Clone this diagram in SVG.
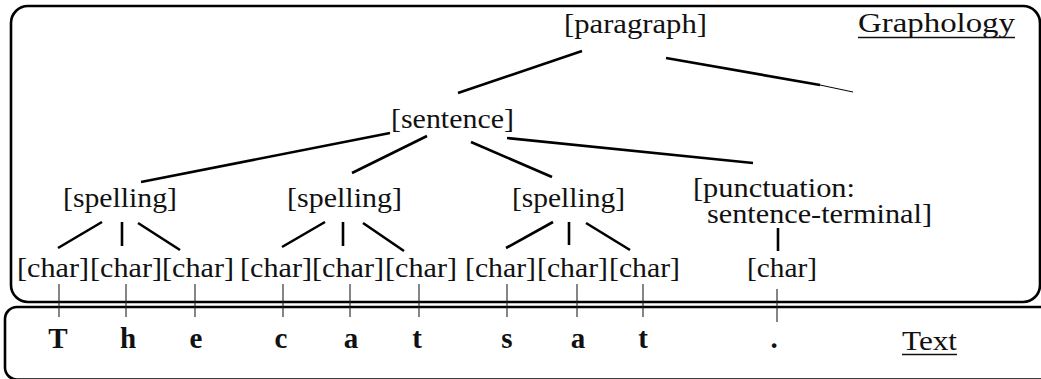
<svg xmlns="http://www.w3.org/2000/svg" width="1041" height="379" viewBox="0 0 1041 379">
  <style>
    .lbl { font-family: "Liberation Serif", "Times New Roman", serif; font-size: 28px; fill: #111; }
    .ltr { font-family: "Liberation Serif", "Times New Roman", serif; font-size: 29px; font-weight: bold; fill: #111; text-anchor: middle; }
    .edge { stroke: #000; stroke-width: 2.6; stroke-linecap: butt; fill: none; }
    .tick { stroke: #222; stroke-width: 1.1; fill: none; }
    .frame { stroke: #000; stroke-width: 2.6; fill: none; }
    .ul { stroke: #111; stroke-width: 1.4; }
  </style>

  <!-- strata frames -->
  <rect class="frame" x="11" y="6" width="1029" height="296" rx="17" ry="17"/>
  <rect class="frame" x="5" y="307" width="1100" height="72.5" rx="12" ry="12"/>

  <!-- strata titles -->
  <g id="title-graphology">
    <text class="lbl" x="858" y="32" textLength="157" lengthAdjust="spacingAndGlyphs">Graphology</text>
    <line class="ul" x1="858" y1="37.5" x2="1015" y2="37.5"/>
  </g>
  <g id="title-text">
    <text class="lbl" x="902" y="350" textLength="55" lengthAdjust="spacingAndGlyphs">Text</text>
    <line class="ul" x1="902" y1="354.5" x2="957" y2="354.5"/>
  </g>

  <!-- connectors -->
  <g id="connectors">
    <line class="edge" x1="582" y1="51" x2="458" y2="93"/>
    <line class="edge" x1="666" y1="58" x2="820" y2="85"/>
    <line stroke="#000" stroke-width="1" x1="820" y1="85" x2="853" y2="92"/>
    <line class="edge" x1="390" y1="133" x2="141" y2="182"/>
    <line class="edge" x1="427" y1="136" x2="352" y2="173"/>
    <line class="edge" x1="471" y1="142" x2="552" y2="177"/>
    <line class="edge" x1="507" y1="138" x2="753" y2="163"/>

    <line class="edge" x1="102" y1="222" x2="58" y2="248"/>
    <line class="edge" x1="122" y1="222" x2="122" y2="246"/>
    <line class="edge" x1="138" y1="223" x2="180" y2="250"/>

    <line class="edge" x1="325" y1="222" x2="282" y2="247"/>
    <line class="edge" x1="343" y1="222" x2="343" y2="246"/>
    <line class="edge" x1="363" y1="223" x2="404" y2="251"/>

    <line class="edge" x1="553" y1="222" x2="506" y2="248"/>
    <line class="edge" x1="569" y1="222" x2="569" y2="245"/>
    <line class="edge" x1="586" y1="223" x2="630" y2="250"/>

    <line class="edge" x1="778" y1="228" x2="778" y2="251"/>

    <!-- realisation ticks into the text stratum -->
    <line class="tick" x1="59" y1="284" x2="59" y2="317"/>
    <line class="tick" x1="126" y1="284" x2="126" y2="317"/>
    <line class="tick" x1="195" y1="284" x2="195" y2="317"/>
    <line class="tick" x1="283" y1="284" x2="283" y2="317"/>
    <line class="tick" x1="350" y1="284" x2="350" y2="317"/>
    <line class="tick" x1="419" y1="284" x2="419" y2="317"/>
    <line class="tick" x1="507" y1="284" x2="507" y2="317"/>
    <line class="tick" x1="577" y1="284" x2="577" y2="317"/>
    <line class="tick" x1="643" y1="284" x2="643" y2="317"/>
    <line class="tick" x1="777" y1="289" x2="777" y2="322"/>
  </g>

  <!-- graphological units -->
  <g id="paragraph"><text class="lbl" x="564" y="33" textLength="143" lengthAdjust="spacingAndGlyphs">[paragraph]</text></g>
  <g id="sentence"><text class="lbl" x="391" y="128" textLength="123" lengthAdjust="spacingAndGlyphs">[sentence]</text></g>
  <g id="spelling-1"><text class="lbl" x="63" y="207" textLength="114" lengthAdjust="spacingAndGlyphs">[spelling]</text></g>
  <g id="spelling-2"><text class="lbl" x="287" y="207" textLength="115" lengthAdjust="spacingAndGlyphs">[spelling]</text></g>
  <g id="spelling-3"><text class="lbl" x="512" y="207" textLength="113" lengthAdjust="spacingAndGlyphs">[spelling]</text></g>
  <g id="punctuation">
    <text class="lbl" x="693" y="197" textLength="162" lengthAdjust="spacingAndGlyphs">[punctuation:</text>
    <text class="lbl" x="707" y="223" textLength="225" lengthAdjust="spacingAndGlyphs">sentence-terminal]</text>
  </g>

  <g id="char-1"><text class="lbl" x="17" y="277" textLength="72" lengthAdjust="spacingAndGlyphs">[char]</text></g>
  <g id="char-2"><text class="lbl" x="90" y="277" textLength="72" lengthAdjust="spacingAndGlyphs">[char]</text></g>
  <g id="char-3"><text class="lbl" x="162" y="277" textLength="72" lengthAdjust="spacingAndGlyphs">[char]</text></g>
  <g id="char-4"><text class="lbl" x="240" y="277" textLength="72" lengthAdjust="spacingAndGlyphs">[char]</text></g>
  <g id="char-5"><text class="lbl" x="312" y="277" textLength="72" lengthAdjust="spacingAndGlyphs">[char]</text></g>
  <g id="char-6"><text class="lbl" x="385" y="277" textLength="72" lengthAdjust="spacingAndGlyphs">[char]</text></g>
  <g id="char-7"><text class="lbl" x="465" y="277" textLength="71" lengthAdjust="spacingAndGlyphs">[char]</text></g>
  <g id="char-8"><text class="lbl" x="537" y="277" textLength="71" lengthAdjust="spacingAndGlyphs">[char]</text></g>
  <g id="char-9"><text class="lbl" x="609" y="277" textLength="71" lengthAdjust="spacingAndGlyphs">[char]</text></g>
  <g id="char-10"><text class="lbl" x="747" y="277" textLength="70" lengthAdjust="spacingAndGlyphs">[char]</text></g>

  <!-- text stratum: the printed letters -->
  <g id="letters">
    <text class="ltr" x="58" y="348">T</text>
    <text class="ltr" x="128" y="348">h</text>
    <text class="ltr" x="196" y="348">e</text>
    <text class="ltr" x="281" y="348">c</text>
    <text class="ltr" x="351" y="348">a</text>
    <text class="ltr" x="417" y="348">t</text>
    <text class="ltr" x="507" y="348">s</text>
    <text class="ltr" x="578" y="348">a</text>
    <text class="ltr" x="643" y="348">t</text>
    <text class="ltr" x="774" y="348">.</text>
  </g>
</svg>
